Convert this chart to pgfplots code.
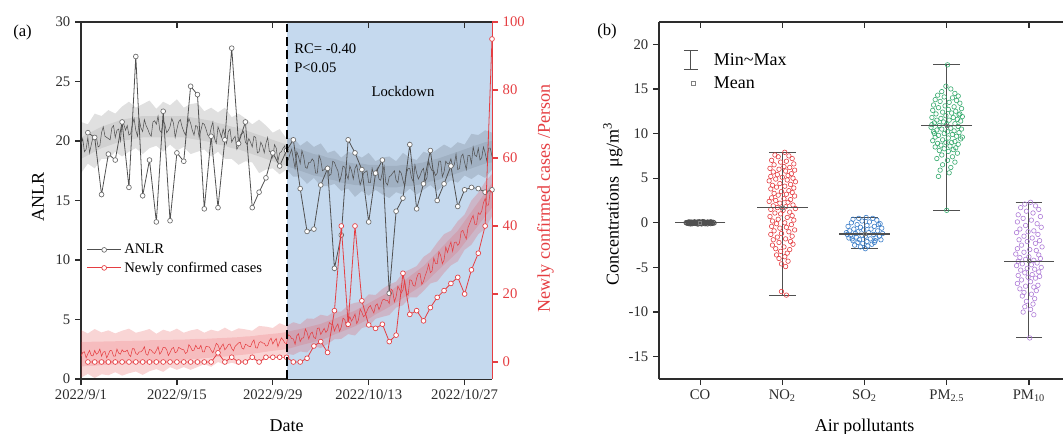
\documentclass[border=0pt]{standalone}
\usepackage{fontspec}
\setmainfont{Liberation Serif}
\usepackage{pgfplots}
\usepackage{pgfplotstable}
\pgfplotsset{compat=1.18}
\usepgfplotslibrary{fillbetween}

\definecolor{lockblue}{RGB}{197,217,238}
\definecolor{cred}{RGB}{229,62,66}
\definecolor{lgray}{RGB}{80,80,80}
\definecolor{axcol}{RGB}{45,45,45}
\definecolor{cblue}{RGB}{58,125,200}
\definecolor{cgreen}{RGB}{55,170,110}
\definecolor{cpurple}{RGB}{175,125,215}

\pgfplotsset{
  every axis/.append style={
    scale only axis, width=308.25pt, height=267.75pt, anchor=south west,
    /pgf/number format/assume math mode=true,
    tick label style={font=\fontsize{11}{13}\selectfont, text=axcol},
    label style={font=\fontsize{13.5}{16}\selectfont},
    axis line style={-, line width=0.9pt, axcol},
    major tick length=4.5pt,
    tick style={line width=0.9pt, axcol},
  },
}

% daily values: ANLR (a) and newly confirmed cases (c)
\pgfplotstableread{
d a c
1 20.7 0
2 20.3 0
3 15.5 0
4 18.9 0
5 18.4 0
6 21.6 0
7 16.1 0
8 27.1 0
9 15.4 0
10 18.4 0
11 13.2 0
12 22.5 0
13 13.3 0
14 19.0 0
15 18.3 0
16 24.6 0
17 23.9 0
18 14.3 0
19 20.4 0
20 14.4 2.7
21 20.1 0
22 27.8 1.4
23 19.8 0
24 21.6 0
25 14.4 1.4
26 15.7 0
27 16.9 1.4
28 19.0 1.4
29 17.9 1.4
30 19.2 1.4
31 20.1 0
32 16.0 0
33 12.4 1.1
34 12.6 4.7
35 16.3 6.0
36 17.7 2.8
37 9.3 15.1
38 12.1 40.0
39 20.1 11.1
40 19.0 40.0
41 17.6 18.0
42 13.2 10.9
43 17.3 9.9
44 18.4 11.1
45 7.2 6.0
46 14.1 7.9
47 15.2 26.1
48 19.7 14.0
49 14.3 15.1
50 16.4 12.1
51 19.2 16.0
52 15.0 19.0
53 16.4 21.0
54 17.9 23.1
55 14.5 24.9
56 15.9 20.0
57 16.1 27.1
58 16.0 32.0
59 15.7 40.0
60 15.9 95.0
}\daily

% ANLR fitted band
\pgfplotstableread{
d lo hi ilo ihi
0 17.3 21.6 18.5 20.3
1 18.1 21.4 18.8 20.6
2 17.7 22.3 19.1 20.9
3 18.5 22.1 19.4 21.2
4 18.5 22.6 19.6 21.4
5 19.1 22.3 19.8 21.6
6 18.7 22.9 20.0 21.8
7 19.1 23.3 20.1 21.9
8 19.4 22.8 20.2 22.0
9 18.9 23.1 20.3 22.1
10 19.4 23.4 20.3 22.1
11 19.6 22.7 20.3 22.1
12 19.1 23.3 20.3 22.1
13 19.7 23.0 20.3 22.1
14 19.2 23.5 20.3 22.1
15 19.5 22.8 20.3 22.1
16 18.9 23.1 20.2 22.0
17 19.1 23.2 20.1 21.9
18 19.3 22.5 20.0 21.8
19 18.7 22.8 19.9 21.7
20 19.1 22.4 19.7 21.5
21 18.5 22.8 19.6 21.4
22 18.5 22.0 19.4 21.2
23 18.0 22.3 19.3 21.1
24 18.3 21.9 19.1 20.9
25 18.2 21.4 18.9 20.7
26 17.3 21.8 18.7 20.5
27 17.6 21.3 18.5 20.3
28 17.7 20.7 18.3 20.1
29 17.2 21.0 18.1 19.9
30 17.6 20.2 17.9 19.7
31 17.0 20.3 17.7 19.5
32 17.0 19.6 17.5 19.3
33 16.4 20.0 17.3 19.1
34 16.9 19.5 17.1 18.9
35 16.2 19.8 17.0 18.8
36 16.2 19.0 16.8 18.6
37 16.4 19.2 16.7 18.5
38 15.8 18.6 16.5 18.3
39 16.0 19.1 16.4 18.2
40 15.3 18.9 16.3 18.1
41 15.8 18.6 16.3 18.1
42 15.4 19.0 16.2 18.0
43 15.9 18.3 16.2 18.0
44 15.5 18.6 16.1 17.9
45 15.2 18.7 16.1 17.9
46 15.7 18.3 16.1 17.9
47 15.5 19.0 16.2 18.0
48 16.0 18.6 16.2 18.0
49 15.5 18.4 16.3 18.1
50 15.9 19.1 16.4 18.2
51 16.3 18.9 16.6 18.4
52 15.8 19.3 16.7 18.5
53 16.3 19.7 16.9 18.7
54 16.7 19.4 17.1 18.9
55 16.5 19.9 17.3 19.1
56 17.1 19.7 17.5 19.3
57 16.8 20.6 17.7 19.5
58 17.2 20.5 17.9 19.7
59 16.9 20.9 18.1 19.9
60 17.6 20.7 18.2 20.0
}\anlrband

% confirmed cases fitted band
\pgfplotstableread{
d lo hi ilo ihi
0 -4.6 9.4 -1.3 5.9
1 -3.5 8.4 -1.2 5.9
2 -4.7 9.7 -1.1 6.0
3 -3.6 8.7 -0.9 6.0
4 -3.9 9.3 -0.8 6.1
5 -3.0 8.4 -0.7 6.1
6 -4.0 9.2 -0.6 6.2
7 -3.3 9.8 -0.5 6.2
8 -2.8 8.6 -0.4 6.3
9 -3.8 9.1 -0.3 6.3
10 -2.7 9.7 -0.2 6.4
11 -2.1 8.3 0.0 6.4
12 -2.9 9.5 0.1 6.5
13 -1.5 8.9 0.3 6.5
14 -2.3 9.8 0.4 6.6
15 -1.5 8.6 0.6 6.6
16 -2.3 9.3 0.8 6.7
17 -1.5 9.7 0.9 6.8
18 -0.6 8.6 1.1 6.8
19 -1.4 9.5 1.3 6.9
20 0.0 9.0 1.5 7.0
21 -0.8 10.1 1.6 7.1
22 -0.2 9.0 1.8 7.2
23 -0.8 9.9 2.0 7.3
24 0.4 9.6 2.2 7.5
25 0.9 9.2 2.4 7.6
26 -0.2 10.6 2.7 7.9
27 0.9 10.4 3.0 8.1
28 1.6 10.0 3.3 8.3
29 1.1 11.4 3.5 8.5
30 2.4 10.6 3.8 8.8
31 2.1 11.7 4.3 9.3
32 3.1 11.1 4.9 9.7
33 2.8 12.8 5.4 10.2
34 4.7 12.7 5.9 10.7
35 4.1 13.9 6.4 11.2
36 5.3 13.5 7.2 12.0
37 6.7 14.9 8.1 12.7
38 6.8 14.8 8.9 13.5
39 8.2 16.8 9.7 14.3
40 7.8 17.4 10.5 15.1
41 10.0 17.8 11.6 16.2
42 10.5 19.9 12.7 17.3
43 12.7 19.7 14.0 18.4
44 13.3 21.5 15.1 19.5
45 13.8 22.8 16.2 20.6
46 16.0 23.6 17.5 22.1
47 16.7 26.3 18.8 23.6
48 19.0 27.2 20.2 25.2
49 19.0 28.2 21.5 26.7
50 20.9 30.9 22.8 28.2
51 23.1 32.3 24.8 30.3
52 23.7 35.1 26.7 32.3
53 26.2 37.6 28.6 34.4
54 28.4 38.6 30.5 36.5
55 29.6 41.4 32.4 38.6
56 33.0 43.4 35.0 41.4
57 34.5 47.5 37.6 44.2
58 37.6 49.8 40.2 47.0
59 39.2 53.0 42.8 49.8
60 42.9 55.3 45.4 52.6
}\casesband

% high-frequency ANLR series
\pgfplotstableread{
d v
0 19.7
0.25 20.2
0.5 19.1
0.75 19.3
1 20.3
1.25 19.0
1.5 19.7
1.75 20.3
2 20.1
2.25 20.3
2.5 19.5
2.75 19.6
3 20.7
3.25 21.2
3.5 20.4
3.75 20.3
4 20.2
4.25 20.1
4.5 21.1
4.75 21.3
5 20.3
5.25 20.9
5.5 21.0
5.75 20.0
6 21.5
6.25 21.4
6.5 20.9
6.75 21.3
7 20.5
7.25 20.6
7.5 21.4
7.75 21.9
8 20.9
8.25 20.4
8.5 21.8
8.75 21.1
9 20.8
9.25 21.8
9.5 21.3
9.75 21.0
10 20.6
10.25 20.4
10.5 21.6
10.75 21.7
11 21.4
11.25 22.1
11.5 20.9
11.75 20.7
12 21.7
12.25 21.4
12.5 20.7
12.75 20.9
13 21.2
13.25 21.9
13.5 21.5
13.75 20.3
14 21.0
14.25 21.6
14.5 21.8
14.75 21.2
15 20.8
15.25 20.5
15.5 21.2
15.75 21.9
16 21.5
16.25 20.9
16.5 20.5
16.75 21.3
17 21.2
17.25 20.3
17.5 20.9
17.75 21.5
18 21.4
18.25 21.0
18.5 20.5
18.75 20.4
19 21.1
19.25 21.6
19.5 20.2
19.75 19.8
20 21.2
20.25 20.8
20.5 20.3
20.75 21.0
21 20.5
21.25 19.8
21.5 20.8
21.75 21.0
22 19.9
22.25 20.2
22.5 20.4
22.75 19.3
23 19.6
23.25 20.5
23.5 20.6
23.75 20.8
24 19.9
24.25 19.7
24.5 20.2
24.75 19.9
25 19.5
25.25 20.4
25.5 20.3
25.75 19.0
26 19.1
26.25 19.9
26.5 19.6
26.75 19.0
27 19.8
27.25 20.3
27.5 19.1
27.75 19.1
28 18.6
28.25 19.7
28.5 19.4
28.75 18.3
29 19.0
29.25 19.1
29.5 19.4
29.75 19.6
30 18.4
30.25 18.4
30.5 18.9
30.75 19.3
31 18.5
31.25 17.7
31.5 19.1
31.75 18.7
32 18.1
32.25 19.2
32.5 18.7
32.75 17.8
33 17.7
33.25 18.2
33.5 18.2
33.75 18.5
34 18.3
34.25 17.3
34.5 17.3
34.75 18.8
35 18.4
35.25 17.5
35.5 17.6
35.75 17.8
36 17.9
36.25 17.1
36.5 17.2
36.75 18.3
37 18.2
37.25 17.8
37.5 17.5
37.75 16.6
38 17.1
38.25 17.9
38.5 17.8
38.75 17.2
39 16.8
39.25 17.9
39.5 17.5
39.75 16.8
40 17.7
40.25 18.0
40.5 17.1
40.75 16.3
41 16.8
41.25 17.3
41.5 17.4
41.75 17.5
42 16.5
42.25 16.5
42.5 17.7
42.75 17.1
43 17.2
43.25 17.7
43.5 16.8
43.75 16.7
44 17.4
44.25 17.9
44.5 16.5
44.75 16.3
45 17.0
45.25 17.1
45.5 17.3
45.75 17.5
46 16.7
46.25 16.5
46.5 17.5
46.75 17.3
47 16.7
47.25 16.2
47.5 17.3
47.75 17.7
48 17.7
48.25 16.9
48.5 16.6
48.75 18.0
49 17.3
49.25 16.8
49.5 17.1
49.75 17.5
50 17.7
50.25 16.6
50.5 16.9
50.75 18.3
51 17.8
51.25 17.5
51.5 17.5
51.75 17.1
52 17.3
52.25 18.3
52.5 18.3
52.75 17.0
53 17.4
53.25 18.3
53.5 18.1
53.75 18.1
54 18.5
54.25 17.8
54.5 18.0
54.75 18.9
55 17.6
55.25 17.7
55.5 18.7
55.75 18.9
56 18.2
56.25 17.6
56.5 18.8
56.75 18.8
57 18.1
57.25 19.5
57.5 18.8
57.75 18.7
58 19.4
58.25 18.4
58.5 18.6
58.75 19.5
59 19.0
59.25 18.3
59.5 19.4
59.75 19.4
60 18.7
}\anlrline

% high-frequency confirmed cases series
\pgfplotstableread{
d v
0 1.7
0.25 2.8
0.5 3.0
0.75 1.2
1 2.4
1.25 3.4
1.5 1.9
1.75 1.8
2 3.4
2.25 2.3
2.5 2.7
2.75 3.8
3 1.7
3.25 2.9
3.5 3.1
3.75 1.2
4 2.3
4.25 3.4
4.5 3.3
4.75 1.7
5 1.7
5.25 3.8
5.5 2.6
5.75 2.3
6 3.6
6.25 3.0
6.5 3.1
6.75 3.5
7 2.2
7.25 1.6
7.5 3.9
7.75 3.9
8 2.5
8.25 2.2
8.5 3.0
8.75 3.0
9 3.5
9.25 4.5
9.5 2.3
9.75 2.0
10 3.7
10.25 3.5
10.5 2.8
10.75 2.5
11 3.4
11.25 4.5
11.5 2.3
11.75 3.0
12 4.3
12.25 4.3
12.5 3.7
12.75 1.9
13 2.8
13.25 3.9
13.5 4.3
13.75 2.7
14 3.0
14.25 4.3
14.5 4.0
14.75 3.7
15 3.6
15.25 2.5
15.5 2.9
15.75 5.1
16 4.4
16.25 3.3
16.5 3.5
16.75 4.9
17 4.0
17.25 3.9
17.5 4.9
17.75 3.0
18 3.0
18.25 4.6
18.5 4.5
18.75 4.4
19 3.4
19.25 2.7
19.5 4.0
19.75 5.5
20 5.0
20.25 3.6
20.5 4.6
20.75 5.3
21 3.6
21.25 4.2
21.5 5.1
21.75 5.3
22 4.0
22.25 3.3
22.5 4.6
22.75 5.1
23 5.6
23.25 5.8
23.5 4.1
23.75 3.8
24 5.2
24.25 5.0
24.5 4.6
24.75 4.5
25 5.8
25.25 6.5
25.5 4.2
25.75 4.1
26 5.7
26.25 6.0
26.5 5.6
26.75 5.5
27 4.7
27.25 4.8
27.5 6.3
27.75 7.0
28 5.3
28.25 6.2
28.5 6.9
28.75 4.5
29 5.9
29.25 7.1
29.5 6.5
29.75 5.6
30 5.4
30.25 8.0
30.5 7.7
30.75 6.9
31 6.8
31.25 5.2
31.5 7.7
31.75 8.3
32 6.0
32.25 7.0
32.5 7.1
32.75 9.7
33 8.7
33.25 6.8
33.5 8.3
33.75 8.8
34 7.2
34.25 6.9
34.5 9.9
34.75 10.0
35 8.1
35.25 9.0
35.5 9.9
35.75 8.7
36 9.4
36.25 11.6
36.5 11.1
36.75 11.1
37 9.1
37.25 10.4
37.5 11.2
37.75 9.0
38 10.3
38.25 12.9
38.5 12.5
38.75 10.5
39 12.0
39.25 13.3
39.5 12.0
39.75 13.0
40 14.1
40.25 11.3
40.5 12.3
40.75 15.6
41 14.6
41.25 13.3
41.5 13.8
41.75 15.0
42 16.1
42.25 16.6
42.5 15.4
42.75 14.4
43 16.6
43.25 17.1
43.5 15.4
43.75 16.6
44 18.2
44.25 18.5
44.5 18.1
44.75 18.1
45 17.2
45.25 21.5
45.5 20.9
45.75 17.7
46 19.2
46.25 22.3
46.5 21.4
46.75 20.3
47 21.2
47.25 24.0
47.5 20.5
47.75 19.6
48 24.2
48.25 24.0
48.5 22.5
48.75 22.3
49 24.7
49.25 26.0
49.5 26.0
49.75 22.8
50 23.7
50.25 25.4
50.5 26.8
50.75 28.8
51 26.3
51.25 26.8
51.5 30.6
51.75 29.0
52 28.9
52.25 32.4
52.5 31.4
52.75 28.9
53 30.0
53.25 33.8
53.5 32.2
53.75 33.9
54 35.3
54.25 32.5
54.5 35.1
54.75 35.3
55 34.3
55.25 35.0
55.5 38.4
55.75 38.7
56 37.3
56.25 36.2
56.5 39.6
56.75 40.8
57 42.1
57.25 43.1
57.5 40.5
57.75 40.5
58 43.9
58.25 43.4
58.5 44.4
58.75 46.8
59 48.1
59.25 46.1
59.5 46.2
59.75 50.4
60 49.9
}\casesline

\begin{document}
\begin{tikzpicture}

% ---------- panel (a) ----------
% lockdown shading (fill between, so it sits under the bands on the same layer)
\begin{axis}[at={(60.75pt,-284.25pt)}, xmin=0, xmax=60, ymin=0, ymax=30, hide axis]
\addplot[name path=lt, draw=none] coordinates {(30,30) (60,30)};
\addplot[name path=lb, draw=none] coordinates {(30,0) (60,0)};
\addplot[fill=lockblue] fill between[of=lt and lb];
\end{axis}

% ANLR
\begin{axis}[at={(60.75pt,-284.25pt)},
  xmin=0, xmax=60, ymin=0, ymax=30,
  axis x line*=bottom, axis y line*=left, tick align=outside,
  xtick={0,14,28,42,56},
  xticklabels={2022/9/1,2022/9/15,2022/9/29,2022/10/13,2022/10/27},
  ytick={0,5,...,30},
  xlabel={Date}, ylabel={ANLR},
  xlabel style={at={(axis description cs:0.5,-0.148)}, anchor=base, inner sep=0pt},
  ylabel style={at={(axis description cs:-0.105,0.51)}, anchor=center, inner sep=0pt},
  legend style={at={(0.01,0.39)}, anchor=north west, draw=none, fill=none,
    font=\fontsize{11}{13}\selectfont, row sep=0.5pt, inner sep=1pt},
  legend cell align=left,
  legend image code/.code={\draw[mark repeat=2,mark phase=2,#1] plot coordinates {(0cm,0cm) (0.45cm,0cm) (0.9cm,0cm)};},
]
\addplot[name path=gh, draw=none, forget plot] table[x=d,y=hi]{\anlrband};
\addplot[name path=gl, draw=none, forget plot] table[x=d,y=lo]{\anlrband};
\addplot[fill=black, fill opacity=0.12, forget plot] fill between[of=gh and gl];
\addplot[name path=gih, draw=none, forget plot] table[x=d,y=ihi]{\anlrband};
\addplot[name path=gil, draw=none, forget plot] table[x=d,y=ilo]{\anlrband};
\addplot[fill=black, fill opacity=0.07, forget plot] fill between[of=gih and gil];
\addplot[black!68, line width=0.4pt, forget plot] table[x=d,y=v]{\anlrline};
\addplot[lgray, line width=0.6pt, mark=*, mark size=1.8pt,
  mark options={fill=white, draw=gray!85!black, line width=0.5pt}] table[x=d,y=a]{\daily};
\addlegendentry{ANLR}
\addlegendimage{cred, line width=0.6pt, mark=*, mark size=1.8pt, mark options={fill=white, draw=cred, line width=0.5pt}}
\addlegendentry{Newly confirmed cases}
\end{axis}

% newly confirmed cases (right axis)
\begin{axis}[at={(60.75pt,-284.25pt)},
  xmin=0, xmax=60, ymin=-5, ymax=100,
  axis x line=none, axis y line*=right, tick align=outside,
  axis line style={-, line width=0.9pt, cred},
  ytick={0,20,...,100},
  y tick label style={text=cred}, ytick style={cred},
  ylabel={Newly confirmed cases /Person},
  ylabel style={at={(axis description cs:1.13,0.505)}, anchor=center, inner sep=0pt, text=cred},
]
\addplot[name path=rh, draw=none] table[x=d,y=hi]{\casesband};
\addplot[name path=rl, draw=none] table[x=d,y=lo]{\casesband};
\addplot[fill=cred, fill opacity=0.22] fill between[of=rh and rl];
\addplot[name path=rih, draw=none] table[x=d,y=ihi]{\casesband};
\addplot[name path=ril, draw=none] table[x=d,y=ilo]{\casesband};
\addplot[fill=cred, fill opacity=0.16] fill between[of=rih and ril];
\addplot[cred, line width=0.4pt] table[x=d,y=v]{\casesline};
\addplot[cred, line width=0.6pt, mark=*, mark size=1.8pt,
  mark options={fill=white, draw=cred, line width=0.5pt}] table[x=d,y=c]{\daily};
\end{axis}

% top frame with inward ticks and lockdown start
\begin{axis}[at={(60.75pt,-284.25pt)},
  xmin=0, xmax=60, ymin=0, ymax=30,
  axis x line*=top, axis y line=none, tick align=inside,
  xtick={0,14,28,42,56}, xticklabels={},
]
\addplot[black, line width=1.5pt, dash pattern=on 6.5pt off 3.5pt] coordinates {(30,0) (30,30)};
\end{axis}

\node[anchor=base west, inner sep=0pt, font=\fontsize{12.5}{14}\selectfont] at (9.75pt,-27.75pt) {(a)};
\node[anchor=base west, inner sep=0pt, font=\fontsize{11}{13}\selectfont] at (220.5pt,-40pt) {RC= -0.40};
\node[anchor=base west, inner sep=0pt, font=\fontsize{11}{13}\selectfont] at (220.5pt,-54.5pt) {P<0.05};
\node[anchor=base, inner sep=0pt, font=\fontsize{11}{13}\selectfont] at (302.25pt,-72.5pt) {Lockdown};

% ---------- panel (b) ----------
\begin{axis}[at={(494.25pt,-284.25pt)},
  xmin=0.5, xmax=5.5, ymin=-17.5, ymax=22.5,
  axis x line*=bottom, axis y line*=left, tick align=outside,
  xtick={1,...,5},
  xticklabels={CO,NO\textsubscript{2},SO\textsubscript{2},PM\textsubscript{2.5},PM\textsubscript{10}},
  ytick={-15,-10,...,20},
  xlabel={Air pollutants}, ylabel={Concentrations\ \ μg/m\textsuperscript{3}},
  xlabel style={at={(axis description cs:0.5,-0.148)}, anchor=base, inner sep=0pt},
  ylabel style={at={(axis description cs:-0.112,0.49)}, anchor=center, inner sep=0pt},
  legend style={at={(0.045,0.925)}, anchor=north west, draw=none, fill=none,
    font=\fontsize{13.5}{16}\selectfont, row sep=2.5pt, inner sep=1pt,
    /tikz/every odd column/.append style={column sep=0.23cm}},
  legend cell align=left,
]
% CO
\addplot[forget plot, only marks, mark=o, mark size=1.7pt, mark options={line width=0.55pt}, lgray] coordinates {
(0.83,0.02) (0.86,-0.08) (0.89,0.09) (0.92,-0.03) (0.95,0.06) (0.98,-0.11) (1.01,0.01) (1.04,0.08)
(1.07,-0.06) (1.10,0.03) (1.13,-0.09) (1.16,0.05) (0.84,-0.04) (0.87,0.06) (0.90,-0.10) (0.93,0.11)
(0.96,-0.01) (0.99,0.12) (1.02,-0.12) (1.05,0.10) (1.08,0.00) (1.11,-0.03) (1.14,0.07) (1.17,-0.02)
(0.85,0.00) (0.88,-0.12) (0.91,0.04) (0.94,-0.07) (0.97,0.08) (1.00,-0.05) (1.03,0.04) (1.06,-0.10)
(1.09,0.09) (1.12,0.00) (1.15,-0.06) (0.86,0.10) (0.92,0.00) (0.97,-0.13) (1.03,0.13) (1.09,-0.12)
(1.13,0.11) (0.89,-0.02) (1.00,0.04) (1.06,0.03) (0.95,-0.04) (1.01,-0.08) (1.11,0.06) (0.98,0.05)
(1.04,-0.02) (0.91,-0.08)
};
% NO2
\addplot[forget plot, only marks, mark=o, mark size=1.7pt, mark options={line width=0.45pt}, cred] coordinates {
(2.03,7.9) (1.91,7.6) (2.08,7.5) (1.95,7.4) (2.12,7.2) (1.87,7.0) (2.05,6.9) (1.98,6.8) (2.14,6.6)
(1.90,6.5) (2.02,6.3) (2.09,6.2) (1.85,6.1) (1.96,6.0) (2.15,5.9) (2.04,5.8) (1.89,5.7) (2.11,5.5)
(1.94,5.4) (2.07,5.3) (1.86,5.2) (2.00,5.1) (2.13,5.0) (1.92,4.9) (2.06,4.8) (1.84,4.7) (2.16,4.6)
(1.97,4.4) (2.10,4.3) (1.88,4.2) (2.03,4.1) (1.93,4.0) (2.14,3.9) (1.86,3.8) (2.08,3.6) (1.99,3.5)
(2.12,3.4) (1.90,3.3) (2.05,3.2) (1.95,3.1) (2.15,3.0) (1.87,2.8) (2.02,2.7) (2.10,2.6) (1.92,2.5)
(1.84,2.4) (2.07,2.3) (1.97,2.2) (2.13,2.0) (1.89,1.9) (2.04,1.8) (1.94,1.7) (2.16,1.6) (1.86,1.5)
(2.01,1.4) (2.09,1.2) (1.91,1.1) (1.98,1.0) (2.12,0.8) (1.85,0.7) (2.06,0.6) (1.95,0.4) (2.14,0.3)
(1.88,0.2) (2.03,0.0) (1.93,-0.1) (2.11,-0.2) (1.87,-0.4) (2.05,-0.5) (1.97,-0.6) (2.15,-0.8)
(1.90,-0.9) (2.08,-1.0) (1.99,-1.2) (1.86,-1.3) (2.12,-1.5) (1.94,-1.6) (2.04,-1.8) (1.89,-1.9)
(2.10,-2.1) (1.96,-2.2) (2.13,-2.4) (1.88,-2.5) (2.02,-2.7) (1.92,-2.9) (2.09,-3.0) (1.98,-3.2)
(2.06,-3.4) (1.93,-3.6) (2.03,-3.8) (1.96,-4.0) (2.07,-4.3) (1.99,-4.6) (2.04,-4.9) (1.99,-7.7) (2.05,-8.1)
};
% SO2
\addplot[forget plot, only marks, mark=o, mark size=1.7pt, mark options={line width=0.45pt}, cblue] coordinates {
(3.02,0.6) (2.93,0.5) (3.10,0.5) (2.86,0.4) (3.15,0.3) (2.97,0.2) (3.06,0.1) (2.84,0.0) (3.19,-0.1)
(2.91,-0.2) (3.03,-0.3) (2.80,-0.4) (3.12,-0.4) (2.95,-0.5) (3.21,-0.6) (2.87,-0.7) (3.08,-0.7)
(2.99,-0.8) (2.82,-0.9) (3.16,-0.9) (2.92,-1.0) (3.05,-1.1) (2.78,-1.1) (3.22,-1.2) (2.89,-1.2)
(3.11,-1.3) (2.97,-1.4) (2.83,-1.4) (3.18,-1.5) (3.01,-1.5) (2.90,-1.6) (3.14,-1.7) (2.81,-1.7)
(3.07,-1.8) (2.94,-1.9) (3.20,-1.9) (2.86,-2.0) (3.03,-2.1) (3.12,-2.2) (2.92,-2.2) (2.98,-2.3)
(3.09,-2.4) (2.88,-2.5) (3.04,-2.6) (2.95,-2.7) (3.01,-2.9) (2.85,-1.8) (3.17,-0.2) (2.79,-1.3) (3.13,-2.0)
};
% PM2.5
\addplot[forget plot, only marks, mark=o, mark size=1.7pt, mark options={line width=0.45pt}, cgreen] coordinates {
(4.01,17.7) (3.99,15.3) (4.05,15.0) (3.94,14.7) (4.10,14.5) (3.89,14.3) (4.14,14.2) (3.97,14.1)
(4.07,14.0) (3.86,13.8) (4.12,13.7) (3.92,13.6) (4.03,13.5) (4.16,13.4) (3.84,13.2) (3.98,13.1)
(4.09,13.0) (3.90,12.9) (4.18,12.8) (4.02,12.7) (3.83,12.6) (4.11,12.5) (3.95,12.4) (4.06,12.3)
(3.87,12.2) (4.15,12.1) (3.99,12.0) (4.19,11.9) (3.82,11.8) (4.08,11.8) (3.93,11.7) (4.13,11.6)
(3.88,11.5) (4.03,11.5) (4.17,11.4) (3.96,11.3) (3.85,11.2) (4.10,11.1) (4.00,11.0) (3.91,10.9)
(4.14,10.8) (3.81,10.7) (4.05,10.6) (4.18,10.5) (3.94,10.5) (3.88,10.4) (4.09,10.3) (4.01,10.2)
(3.84,10.2) (4.15,10.1) (3.97,10.0) (4.07,9.9) (3.90,9.8) (4.12,9.7) (3.86,9.6) (4.02,9.5)
(4.17,9.4) (3.95,9.3) (3.83,9.2) (4.10,9.1) (3.99,9.0) (4.06,9.0) (3.89,8.9) (4.14,8.8) (3.93,8.7)
(4.04,8.6) (3.86,8.5) (4.11,8.4) (3.97,8.3) (4.08,8.2) (3.91,8.1) (4.02,8.0) (4.13,7.8) (3.94,7.6)
(4.07,7.4) (3.88,7.2) (4.01,7.0) (4.10,6.8) (3.95,6.5) (4.05,6.2) (3.92,5.9) (4.03,5.6) (3.90,5.2)
(4.00,1.4) (4.16,12.2) (3.85,10.0) (4.19,9.6) (3.82,11.0)
};
% PM10
\addplot[forget plot, only marks, mark=o, mark size=1.7pt, mark options={line width=0.45pt}, cpurple] coordinates {
(5.02,2.3) (4.95,2.1) (5.08,1.9) (4.90,1.7) (5.12,1.5) (4.97,1.3) (5.05,1.1) (4.87,0.9) (5.14,0.7)
(4.93,0.5) (5.03,0.3) (4.86,0.1) (5.10,-0.1) (4.96,-0.3) (5.15,-0.5) (4.89,-0.7) (5.06,-0.9)
(4.99,-1.0) (4.85,-1.1) (5.11,-1.3) (4.94,-1.5) (5.04,-1.7) (4.88,-1.9) (5.13,-2.0) (4.98,-2.1)
(5.08,-2.3) (4.91,-2.5) (5.16,-2.7) (4.86,-2.9) (5.01,-3.0) (5.09,-3.1) (4.94,-3.3) (4.84,-3.5)
(5.12,-3.6) (5.00,-3.8) (4.89,-3.9) (5.14,-4.0) (4.96,-4.1) (5.06,-4.2) (4.87,-4.3) (5.10,-4.5)
(4.92,-4.6) (5.03,-4.7) (4.85,-4.8) (5.15,-5.0) (4.98,-5.1) (5.07,-5.2) (4.90,-5.3) (5.12,-5.5)
(4.95,-5.6) (5.04,-5.8) (4.87,-5.9) (5.13,-6.0) (4.99,-6.1) (5.08,-6.2) (4.91,-6.4) (5.02,-6.6)
(4.86,-6.8) (5.11,-7.0) (4.96,-7.1) (5.06,-7.2) (4.89,-7.4) (5.09,-7.6) (4.94,-7.8) (5.03,-8.0)
(4.92,-8.2) (5.07,-8.5) (4.97,-8.8) (5.05,-9.1) (4.95,-9.4) (5.02,-9.7) (4.93,-10.0) (5.06,-10.3) (5.01,-12.9)
};
% mean lines
\addplot[forget plot, only marks, mark=-, mark size=19pt, mark options={lgray, line width=0.8pt}] coordinates {
(1,0) (2,1.7) (3,-1.25) (4,10.9) (5,-4.3)
};
% min-max whiskers and mean markers
\addplot[forget plot, only marks, mark=square, mark size=1.2pt, mark options={gray, line width=0.5pt},
  error bars/.cd, y dir=both, y explicit,
  error bar style={lgray, line width=0.8pt},
  error mark options={rotate=90, lgray, line width=0.8pt, mark size=10pt}]
coordinates {
(1,0) += (0,0.2) -= (0,0.2)
(2,1.7) += (0,6.2) -= (0,9.8)
(3,-1.25) += (0,1.85) -= (0,1.65)
(4,10.9) += (0,6.8) -= (0,9.5)
(5,-4.3) += (0,6.6) -= (0,8.6)
};
\addlegendimage{legend image code/.code={\path (0cm,0cm) (0.6cm,0cm);
  \draw[lgray, line width=0.8pt] (0.3cm,-0.25cm)--(0.3cm,0.25cm) (0.12cm,-0.25cm)--(0.48cm,-0.25cm) (0.12cm,0.25cm)--(0.48cm,0.25cm);}}
\addlegendentry{Min\textasciitilde Max}
\addlegendimage{legend image code/.code={\path (0cm,0cm) (0.6cm,0cm);
  \node[draw=gray, line width=0.5pt, inner sep=0pt, minimum size=3.4pt] at (0.3cm,0cm) {};}}
\addlegendentry{Mean}
\end{axis}

\begin{axis}[at={(494.25pt,-284.25pt)},
  xmin=0.5, xmax=5.5, ymin=-17.5, ymax=22.5,
  axis x line*=top, axis y line=none, tick align=inside,
  xtick={1,...,5}, xticklabels={},
]
\addplot[draw=none, forget plot] coordinates {(1,0) (5,0)};
\end{axis}

\node[anchor=base west, inner sep=0pt, font=\fontsize{12.5}{14}\selectfont] at (447.75pt,-27pt) {(b)};

\pgfresetboundingbox
\path[use as bounding box] (0,0) rectangle (797.25pt,-325.5pt);
\end{tikzpicture}
\end{document}
